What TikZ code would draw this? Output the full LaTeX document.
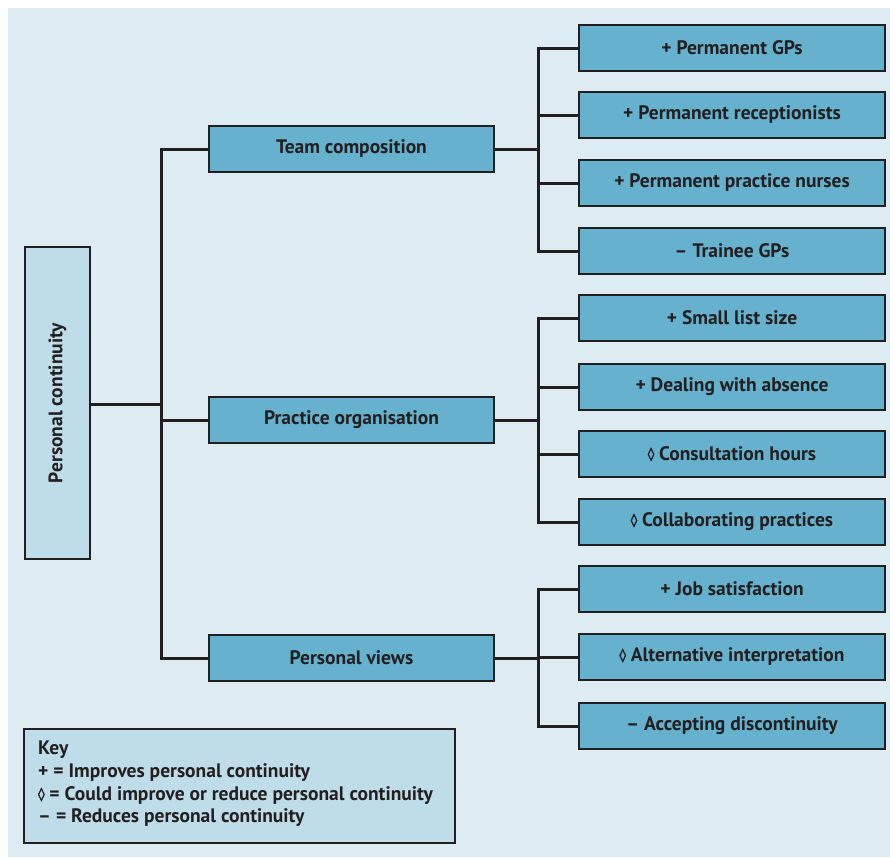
\documentclass[tikz,border=0pt]{standalone}
\usepackage{fontspec}
\usepackage{graphicx}
\setmainfont{PT Sans}
\newfontfamily\symfont[FakeBold=3.5]{DejaVu Sans}
\definecolor{bgblue}{HTML}{DDEBF2}
\definecolor{boxblue}{HTML}{66B2CE}
\definecolor{lightbox}{HTML}{BEDDE8}
\definecolor{ink}{HTML}{231F20}
\newcommand{\dmd}{\raisebox{0.14em}{\scalebox{0.66}{\symfont\bfseries ◊}}}
\begin{document}
\begin{tikzpicture}[x=1pt,y=-1pt,
  font=\fontsize{19.5}{21}\selectfont\bfseries,
  every node/.style={text=ink},
  line/.style={draw=ink,line width=3pt},
  mainbox/.style={draw=ink,line width=2.6pt,fill=boxblue,minimum width=285pt,minimum height=46pt,inner sep=0pt},
  leafbox/.style={draw=ink,line width=2.6pt,fill=boxblue,minimum width=306pt,minimum height=46pt,inner sep=0pt},
  rootbox/.style={draw=ink,line width=2.6pt,fill=lightbox,minimum width=65pt,minimum height=312pt,inner sep=0pt},
  keybox/.style={draw=ink,line width=1.2pt,fill=lightbox,minimum width=431pt,minimum height=114pt,inner sep=0pt}
]
\useasboundingbox (0,0) rectangle (890,857);
\fill[white] (0,0) rectangle (890,857);
\fill[bgblue] (8,8) rectangle (890,857);

\node[rootbox] (root) at (57.5,403) {};
\node[rotate=90] (roottext) at (57.5,403) {Personal continuity};

\node[mainbox] (team) at (351.5,149) {Team composition};
\node[mainbox] (prac) at (351.5,420) {Practice organisation};
\node[mainbox] (view) at (351.5,658) {Personal views};

\coordinate (t1) at (161,404);
\coordinate (ttop) at (161,149);
\coordinate (tmid) at (161,420);
\coordinate (tbot) at (161,658);

\node[leafbox] (l1) at (732,48) {+ Permanent GPs};
\node[leafbox] (l2) at (732,115) {+ Permanent receptionists};
\node[leafbox] (l3) at (732,183) {+ Permanent practice nurses};
\node[leafbox] (l4) at (732,251) {– Trainee GPs};
\node[leafbox] (l5) at (732,318) {+ Small list size};
\node[leafbox] (l6) at (732,387) {+ Dealing with absence};
\node[leafbox] (l7) at (732,454) {\dmd\ Consultation hours};
\node[leafbox] (l8) at (732,522) {\dmd\ Collaborating practices};
\node[leafbox] (l9) at (732,589) {+ Job satisfaction};
\node[leafbox] (l10) at (732,657) {\dmd\ Alternative interpretation};
\node[leafbox] (l11) at (732,726) {– Accepting discontinuity};

% root connectors
\draw[line] (root.east |- t1) -- (t1);
\draw[line] (team.west) -| (ttop) -- (tbot) -- (view.west);
\draw[line] (tmid) -- (prac.west);

% team branch
\draw[line] (team.east) -- (538,149);
\draw[line] (l1.west) -| (538,48) -- (538,251) -- (l4.west);
\draw[line] (538,115) -- (l2.west);
\draw[line] (538,183) -- (l3.west);

% practice branch
\draw[line] (prac.east) -- (538,420);
\draw[line] (l5.west) -| (538,318) -- (538,522) -- (l8.west);
\draw[line] (538,387) -- (l6.west);
\draw[line] (538,454) -- (l7.west);

% views branch
\draw[line] (view.east) -- (538,658);
\draw[line] (l9.west) -| (538,589) -- (538,726) -- (l11.west);
\draw[line] (538,657) -- (l10.west);

% key
\node[keybox] (key) at (239.5,786) {};
\node[anchor=west,inner sep=0pt] (k0) at (38,750) {Key};
\node[anchor=west,inner sep=0pt] (k1) at (38,773) {+ = Improves personal continuity};
\node[anchor=west,inner sep=0pt] (k2) at (38,796) {\dmd\ = Could improve or reduce personal continuity};
\node[anchor=west,inner sep=0pt] (k3) at (38,818) {– = Reduces personal continuity};
\end{tikzpicture}
\end{document}
